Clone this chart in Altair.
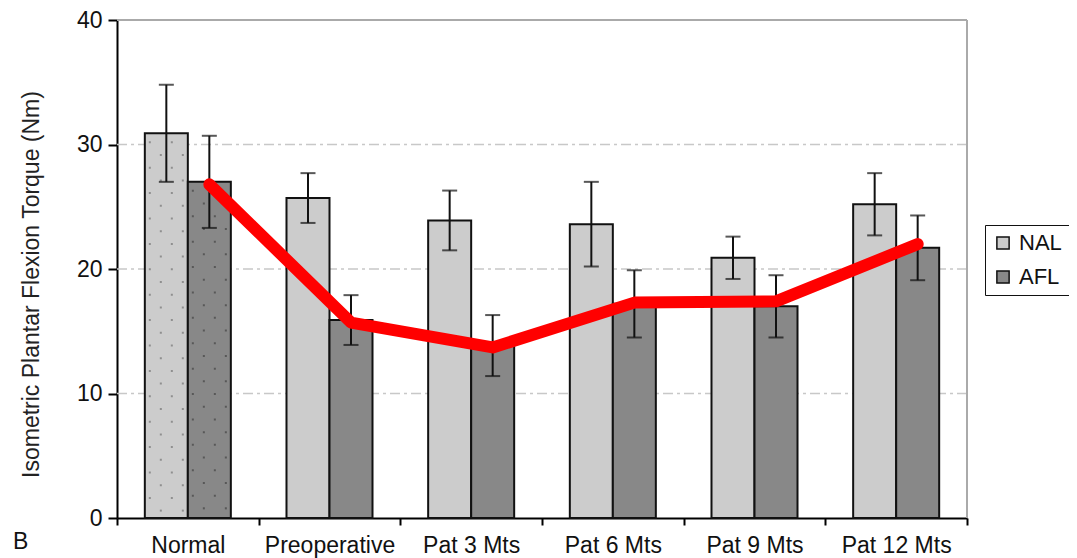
import altair as alt
import pandas as pd

categories = ["Normal", "Preoperative", "Pat 3 Mts", "Pat 6 Mts", "Pat 9 Mts", "Pat 12 Mts"]
series = ["NAL", "AFL"]
nal_mean = [30.9, 25.7, 23.9, 23.6, 20.9, 25.2]
nal_err = [3.9, 2.0, 2.4, 3.4, 1.7, 2.5]
afl_mean = [27.0, 15.9, 13.85, 17.2, 17.0, 21.7]
afl_err = [3.7, 2.0, 2.45, 2.7, 2.5, 2.6]
trend = [26.8, 15.7, 13.7, 17.3, 17.4, 22.0]
grid_values = [10, 20, 30]
y_ticks = [0, 10, 20, 30, 40]

rows = []
for i, c in enumerate(categories):
    rows.append({"cat": c, "series": "NAL", "mean": nal_mean[i],
                 "lo": nal_mean[i] - nal_err[i], "hi": nal_mean[i] + nal_err[i]})
    rows.append({"cat": c, "series": "AFL", "mean": afl_mean[i],
                 "lo": afl_mean[i] - afl_err[i], "hi": afl_mean[i] + afl_err[i]})
df = pd.DataFrame(rows)
trend_df = pd.DataFrame({"cat": categories, "series": ["AFL"] * len(categories), "v": trend})
grid_df = pd.DataFrame({"g": grid_values})

FONT = "Liberation Sans"
W, H = 850, 498
STEP = W / len(categories)
OUTER = 0.647
BAR_W = STEP / (2 + 2 * OUTER)
BAR0 = OUTER * BAR_W

x_scale = alt.Scale(domain=categories, paddingInner=0, paddingOuter=0)
x_enc = alt.X("cat:N", sort=categories, scale=x_scale,
              axis=alt.Axis(title=None, tickBand="extent", labelFontSize=23, labelFont=FONT,
                            labelColor="#111", labelPadding=9, tickSize=7, tickWidth=2,
                            tickColor="#000", domainColor="#000", domainWidth=2,
                            labelAngle=0, grid=False))
x_plain = alt.X("cat:N", sort=categories, scale=x_scale)
xo_enc = alt.XOffset("series:N", sort=series,
                     scale=alt.Scale(domain=series, paddingInner=0, paddingOuter=OUTER))
y_scale = alt.Scale(domain=[0, 40], nice=False)

grid = alt.Chart(grid_df).mark_rule(color="#c8c8c8", strokeWidth=1.5, strokeDash=[10, 4, 3, 4]).encode(
    y=alt.Y("g:Q", scale=y_scale)
)

bars = alt.Chart(df).mark_bar(stroke="#111", strokeWidth=2).encode(
    x=x_enc,
    xOffset=xo_enc,
    y=alt.Y("mean:Q", scale=y_scale,
            axis=alt.Axis(title="Isometric Plantar Flexion Torque (Nm)", values=y_ticks,
                          titleFontSize=23, titleFont=FONT, titleFontWeight="normal",
                          titleColor="#222", titlePadding=33, titleY=264,
                          labelFontSize=23, labelFont=FONT, labelColor="#111", labelPadding=6,
                          tickSize=9, tickWidth=2, tickColor="#000",
                          domainColor="#000", domainWidth=2, grid=False)),
    color=alt.Color("series:N", sort=series,
                    scale=alt.Scale(domain=series, range=["#cccccc", "#888888"]),
                    legend=alt.Legend(title=None, orient="none", legendX=868, legendY=205,
                                      strokeColor="#111", padding=7, symbolType="square",
                                      symbolSize=150, symbolStrokeColor="#111",
                                      symbolStrokeWidth=1.5, labelFontSize=22, labelFont=FONT,
                                      labelColor="#111", rowPadding=12, labelOffset=5)),
)

# stipple texture on the "Normal" bars: staggered columns of small dots
dot_layers = []
for si, s in enumerate(series):
    sub = df[(df["cat"] == "Normal") & (df["series"] == s)]
    dot_color = "#8f8f8f" if s == "NAL" else "#585858"
    for k, off in enumerate([5, 16, 27, 38]):
        bp = (BAR0 + si * BAR_W + off) / STEP
        dot_layers.append(
            alt.Chart(sub).mark_rule(
                color=dot_color, strokeWidth=2, strokeDash=[2, 23.4],
                strokeDashOffset=(-8 if k % 2 == 0 else -20.7)
            ).encode(
                x=alt.X("cat:N", sort=categories, scale=x_scale, bandPosition=bp),
                y=alt.Y("mean:Q", scale=y_scale), y2=alt.datum(0)
            )
        )

err = alt.Chart(df).mark_rule(color="#111", strokeWidth=2).encode(
    x=x_plain, xOffset=xo_enc,
    y=alt.Y("lo:Q", scale=y_scale), y2="hi:Q"
)
cap_hi = alt.Chart(df).mark_tick(color="#111", thickness=2, size=15, orient="horizontal").encode(
    x=x_plain, xOffset=xo_enc, y=alt.Y("hi:Q", scale=y_scale)
)
cap_lo = alt.Chart(df).mark_tick(color="#111", thickness=2, size=15, orient="horizontal").encode(
    x=x_plain, xOffset=xo_enc, y=alt.Y("lo:Q", scale=y_scale)
)

line = alt.Chart(trend_df).mark_line(color="#ff0000", strokeWidth=12, strokeCap="round",
                                      strokeJoin="round").encode(
    x=x_plain, xOffset=xo_enc, y=alt.Y("v:Q", scale=y_scale)
)

label_b = alt.Chart(pd.DataFrame({"t": ["B"]})).mark_text(
    fontSize=23, font=FONT, color="#111", align="left", baseline="middle"
).encode(text="t:N", x=alt.value(-104), y=alt.value(522))

right_border = alt.Chart(pd.DataFrame({"t": ["r"]})).mark_rule(color="#aaaaaa", strokeWidth=2).encode(
    x=alt.value(W), y=alt.value(0), y2=alt.value(H)
)
top_border = alt.Chart(pd.DataFrame({"t": ["t"]})).mark_rule(color="#aaaaaa", strokeWidth=2).encode(
    x=alt.value(0), x2=alt.value(W), y=alt.value(0)
)

chart = alt.layer(grid, right_border, top_border, bars, *dot_layers, err, cap_hi, cap_lo, line,
                  label_b).properties(
    width=W, height=H,
    padding={"left": 109, "top": 12, "right": 102, "bottom": 40},
    autosize=alt.AutoSizeParams(type="none"),
).configure_view(stroke=None).configure(background="white")

chart.save("out.html", embed_options={"renderer": "svg", "actions": False})
